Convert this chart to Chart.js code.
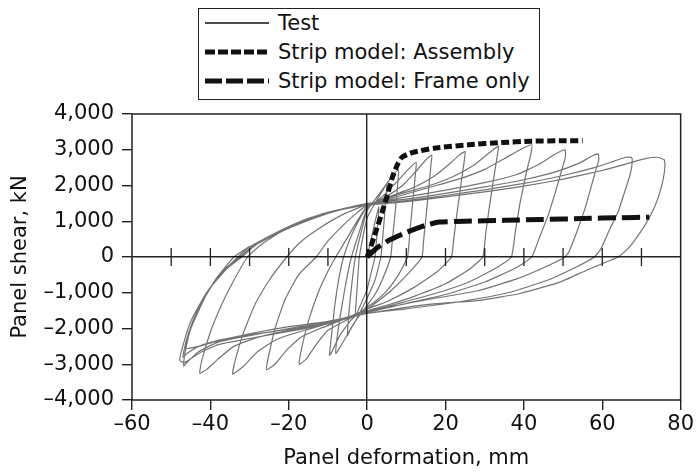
<!DOCTYPE html>
<html>
<head>
<meta charset="utf-8">
<script src="https://cdn.jsdelivr.net/npm/chart.js"></script>
<style>
  body { margin: 0; background: #fff; }
  #wrap { position: relative; width: 696px; height: 475px; }
  #legend {
    position: absolute; left: 198px; top: 8px; width: 340px; height: 90px;
    border: 1.5px solid #222; background: #fff;
    font-family: "DejaVu Sans", sans-serif; font-size: 21px; color: #111;
  }
  .row { position: absolute; left: 0; height: 28px; display: flex; align-items: center; white-space: nowrap; }
  .row svg { margin-left: 6px; margin-right: 9px; }
</style>
</head>
<body>
<div id="wrap">
  <canvas id="chart" width="696" height="475"></canvas>
  <div id="legend">
    <div class="row" style="top:0px">
      <svg width="64" height="10"><line x1="0" y1="5" x2="64" y2="5" stroke="#111" stroke-width="1.3"/></svg>Test
    </div>
    <div class="row" style="top:29px">
      <svg width="64" height="10"><line x1="0" y1="5" x2="64" y2="5" stroke="#111" stroke-width="5" stroke-dasharray="10 3"/></svg>Strip model: Assembly
    </div>
    <div class="row" style="top:58px">
      <svg width="64" height="10"><line x1="0" y1="5" x2="64" y2="5" stroke="#111" stroke-width="5" stroke-dasharray="17 4"/></svg>Strip model: Frame only
    </div>
  </div>
</div>
<script>
// panel deformation (mm), panel shear (kN), one array per cycle
const cycle1 = [[0,0],[1,480],[2,980],[3,1400],[2.7,900],[2.3,350],[2,0],
  [1,-450],[0,-900],[-1.5,-1300],[-3,-1650],[-2.7,-1100],[-2.3,-450],[-2,0]];
const cycle2 = [[-1,600],[0,1100],[2.5,1600],[4.2,1900],[5,2050],[4.7,1500],[4.1,700],[3.5,0],
  [2,-650],[0,-1150],[-2.5,-1700],[-4.2,-2000],[-5,-2200],[-4.6,-1500],[-3.8,-650],[-3,0]];
const cycle3 = [[-1.5,700],[0,1300],[3,1750],[6,2200],[8,2450],[7.8,2050],[7.2,1300],[6.5,550],[6,0],
  [4,-600],[2,-1050],[0,-1350],[-3,-1800],[-6,-2350],[-8,-2700],[-7.6,-2200],[-6.5,-1400],[-5.2,-600],[-4,0]];
const cycle4 = [[-2,700],[0,1350],[4,1700],[8,2150],[10.5,2450],[12.5,2650],[12.3,2300],[11.6,1500],[10.9,700],[10.3,0],
  [8,-500],[5,-950],[2,-1250],[0,-1400],[-4,-1750],[-7,-2200],[-9,-2650],[-9.6,-2750],[-9.2,-2300],[-8.3,-1400],[-7.2,-600],[-6,0]];
const cycle5 = [[-4,600],[-2,1050],[0,1400],[5,1700],[9,2000],[12.5,2400],[15,2720],[16.5,2850],[16.3,2600],[15.7,1900],[15,1100],[14.4,450],[14,0],
  [11,-400],[6,-950],[2,-1300],[0,-1450],[-5,-1750],[-10,-2050],[-13,-2450],[-15.5,-2850],[-17.3,-3000],[-16.8,-2600],[-15,-1800],[-12.5,-1000],[-10,-400],[-8,0]];
const cycle6 = [[-5,550],[-2,1100],[0,1420],[6,1700],[12,1950],[17,2250],[21,2600],[23.5,2850],[25,2950],[24.8,2700],[23.9,2000],[22.9,1200],[22.1,500],[21.5,0],
  [18,-400],[12,-850],[5,-1250],[0,-1450],[-6,-1750],[-12,-2000],[-17,-2250],[-20.5,-2600],[-23.5,-3000],[-25.7,-3150],[-25.3,-2850],[-23.5,-2000],[-21,-1200],[-17.5,-500],[-13,0]];
const cycle7 = [[-10,450],[-6,900],[-3,1200],[0,1450],[8,1750],[16,2000],[22,2250],[27,2550],[31,2900],[33.5,3100],[33.3,2900],[32.3,2200],[31.2,1400],[30.3,700],[29.5,0],
  [26,-350],[20,-750],[12,-1100],[5,-1350],[0,-1500],[-8,-1800],[-16,-2050],[-23,-2300],[-28,-2650],[-31.5,-3050],[-34.3,-3280],[-33.8,-2950],[-31.5,-2100],[-28.5,-1300],[-25,-650],[-20.5,0]];
const cycle8 = [[-17,420],[-12,820],[-6,1200],[0,1470],[8,1700],[16,1950],[24,2200],[30,2450],[35,2750],[39,3000],[42,3140],[41.8,2900],[40.5,2300],[39,1500],[37.8,700],[36.8,0],
  [33,-300],[26,-700],[18,-1000],[8,-1300],[0,-1530],[-10,-1850],[-20,-2050],[-28,-2250],[-34,-2500],[-38,-2850],[-41,-3150],[-42.7,-3250],[-42.2,-2900],[-40,-2100],[-37,-1300],[-34,-650],[-30.5,0]];
const cycle9 = [[-27,350],[-22,700],[-15,1020],[-8,1280],[0,1490],[10,1680],[20,1870],[30,2080],[38,2300],[44,2600],[48,2880],[50.5,3000],[50.6,2800],[49.5,2370],[48,1800],[46.2,1170],[44,550],[42,0],
  [38,-300],[30,-700],[20,-1050],[10,-1300],[0,-1560],[-10,-1870],[-20,-2080],[-30,-2280],[-38,-2450],[-43,-2700],[-46.5,-2950],[-47.8,-2900],[-47.3,-2600],[-45,-1800],[-41,-1000],[-37,-450],[-33,0]];
const cycle10 = [[-30,280],[-25,580],[-20,850],[-15,1080],[-10,1250],[-5,1380],[0,1500],[10,1620],[20,1780],[30,1960],[40,2160],[48,2380],[54,2620],[57.5,2830],[59,2880],[59.1,2700],[58.4,2450],[57,1900],[55.6,1360],[53.5,700],[51.5,150],[50.5,0],
  [45,-300],[38,-620],[28,-950],[15,-1200],[0,-1530],[-10,-1820],[-20,-2000],[-30,-2200],[-38,-2380],[-43,-2650],[-46,-2950],[-46.8,-3050],[-46.6,-2750],[-45,-2000],[-41,-1050],[-37,-400],[-32.5,0]];
const cycle11 = [[-29,320],[-24,630],[-18,920],[-12,1170],[-6,1350],[0,1470],[10,1580],[20,1720],[30,1880],[40,2060],[50,2280],[58,2500],[63,2680],[66,2790],[67.5,2780],[67.6,2600],[67.1,2300],[65.5,1750],[64,1250],[62,800],[59.7,240],[58,0],
  [53,-300],[46,-650],[36,-1000],[22,-1280],[10,-1450],[0,-1580],[-10,-1850],[-20,-2020],[-30,-2180],[-38,-2330],[-43,-2500],[-46,-2700],[-47,-2800],[-46.4,-2450],[-44.5,-1800],[-41,-1000],[-36,-350],[-32,0]];
const cycle12 = [[-28.5,330],[-23,650],[-17,950],[-10,1230],[-5,1360],[0,1450],[10,1550],[20,1680],[30,1820],[40,1980],[50,2180],[60,2420],[66,2600],[71,2750],[74,2790],[75.8,2720],[76,2550],[75.5,2150],[74.2,1640],[72.5,1200],[70.9,890],[68.5,500],[66.6,240],[64,0],
  [56,-370],[49,-710],[39,-1020],[28,-1220],[15,-1330],[0,-1580],[-10,-1800],[-20,-1950],[-30,-2150],[-38,-2350],[-43,-2500],[-46.3,-2550],[-45.3,-2100],[-42.5,-1350],[-38.5,-600],[-34,0],[-30,300]];

const assembly = [[0,0],[2.5,800],[4.8,1600],[6.5,2250],[7.8,2600],[9,2800],[11.5,2920],[17.5,3050],[26,3140],[34,3200],[42,3240],[50,3250],[55,3250]];
const frameOnly = [[0,0],[2.3,240],[5.6,470],[10,690],[15,890],[18.3,980],[25,1000],[35,1025],[45,1050],[55,1075],[65,1100],[72,1115]];

const zeroLineTicks = [-50,-40,-30,-20,-10,10,20,30,40,50,60,70];

const toPts = (arr) => arr.map(p => ({x: p[0], y: p[1]}));
const testCycles = [cycle1, cycle2, cycle3, cycle4, cycle5, cycle6, cycle7, cycle8, cycle9, cycle10, cycle11, cycle12];
let testData = [];
testCycles.forEach((c) => { testData = testData.concat(toPts(c)); });

const fontFam = '"DejaVu Sans", sans-serif';
const fmt = (v) => Number(v).toLocaleString('en-US').replace('-', '\u2013');

// outer box + little ticks along the zero line
const framePlugin = {
  id: 'frame',
  afterDatasetsDraw(chart) {
    const ctx = chart.ctx;
    const a = chart.chartArea;
    const xs = chart.scales.x, ys = chart.scales.y;
    ctx.save();
    ctx.strokeStyle = '#222';
    ctx.lineWidth = 1.5;
    ctx.strokeRect(a.left, a.top, a.right - a.left, a.bottom - a.top);
    const y0 = ys.getPixelForValue(0);
    ctx.lineWidth = 1.3;
    ctx.beginPath();
    zeroLineTicks.forEach((v) => {
      const px = xs.getPixelForValue(v);
      ctx.moveTo(px, y0 - 9);
      ctx.lineTo(px, y0 + 9);
    });
    ctx.stroke();
    ctx.restore();
  }
};

new Chart(document.getElementById('chart'), {
  type: 'scatter',
  data: {
    datasets: [
      { label: 'Strip model: Assembly', data: toPts(assembly), showLine: true, borderColor: '#111',
        borderWidth: 5, borderDash: [8, 3.5], pointRadius: 0, tension: 0.2, order: 0 },
      { label: 'Strip model: Frame only', data: toPts(frameOnly), showLine: true, borderColor: '#111',
        borderWidth: 5, borderDash: [18, 6], pointRadius: 0, tension: 0.1, order: 1 },
      { label: 'Test', data: testData, showLine: true, borderColor: 'rgba(0,0,0,0.55)',
        borderWidth: 1.2, pointRadius: 0, tension: 0.15, order: 2 }
    ]
  },
  options: {
    responsive: false,
    animation: false,
    layout: { padding: { top: 114, right: 13, left: 0, bottom: 0 } },
    plugins: { legend: { display: false }, tooltip: { enabled: false } },
    scales: {
      x: {
        type: 'linear', min: -60, max: 80,
        ticks: { stepSize: 20, color: '#111', padding: 2, font: { family: fontFam, size: 21 }, callback: (v) => fmt(v) },
        grid: { color: (c) => (c.tick && c.tick.value === 0 ? '#222' : 'rgba(0,0,0,0)'), tickColor: '#222', lineWidth: 1.4, tickLength: 10 },
        border: { display: false },
        title: { display: true, text: 'Panel deformation, mm', color: '#111', font: { family: fontFam, size: 21 }, padding: { top: 4, bottom: 4 } },
        afterFit: (s) => { s.height = 75; }
      },
      y: {
        type: 'linear', min: -4000, max: 4000,
        ticks: { stepSize: 1000, color: '#111', padding: 8, font: { family: fontFam, size: 21 }, callback: (v) => fmt(v) },
        grid: { color: (c) => (c.tick && c.tick.value === 0 ? '#222' : 'rgba(0,0,0,0)'), tickColor: '#222', lineWidth: 1.4, tickLength: 10 },
        border: { display: false },
        title: { display: true, text: 'Panel shear, kN', color: '#111', font: { family: fontFam, size: 21 }, padding: { top: 8, bottom: 4 } },
        afterFit: (s) => { s.width = 132; }
      }
    }
  },
  plugins: [framePlugin]
});
</script>
</body>
</html>
